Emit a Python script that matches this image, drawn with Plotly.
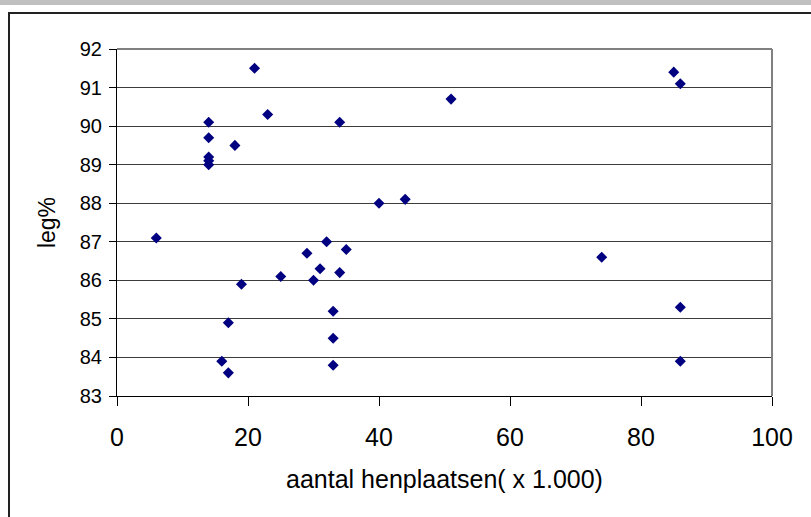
import plotly.graph_objects as go

# aantal henplaatsen (x 1.000) and leg%
henplaatsen = [21, 23, 14, 14, 18, 14, 14, 14, 34, 40,
               44, 51, 85, 86, 74, 86, 86,
               6, 19, 17, 16, 17, 25, 29, 32, 35, 31, 34, 30, 33, 33, 33]
leg_pct = [91.5, 90.3, 90.1, 89.7, 89.5, 89.2, 89.1, 89.0, 90.1, 88.0,
           88.1, 90.7, 91.4, 91.1, 86.6, 85.3, 83.9,
           87.1, 85.9, 84.9, 83.9, 83.6, 86.1, 86.7, 87.0, 86.8, 86.3, 86.2, 86.0, 85.2, 84.5, 83.8]

x_ticks = [0, 20, 40, 60, 80, 100]
y_ticks = [83, 84, 85, 86, 87, 88, 89, 90, 91, 92]

W, H = 811, 517
L, R, T, B = 117, 772, 49, 396
pw, ph = R - L, B - T


def px(x):
    return (x - L) / pw


def py(y):
    return (B - y) / ph


FONT = "Liberation Sans Narrow, Arial Narrow, Liberation Sans, Arial, sans-serif"

fig = go.Figure()
fig.add_trace(go.Scatter(
    x=henplaatsen, y=leg_pct, mode="markers",
    marker=dict(symbol="diamond", size=8.5, color="#000080", line=dict(width=0)),
    showlegend=False, cliponaxis=False,
))

fig.update_layout(
    width=W, height=H,
    margin=dict(l=L, r=W - R, t=T, b=H - B),
    paper_bgcolor="white", plot_bgcolor="white",
    font=dict(family=FONT, color="black"),
    xaxis=dict(range=[0, 100], tickvals=x_ticks, ticks="outside", ticklen=9,
               tickcolor="black", showgrid=False, zeroline=False,
               showline=True, linecolor="black", linewidth=1,
               tickfont=dict(size=25, family=FONT), ticklabelstandoff=10,
               title=dict(text="aantal henplaatsen( x 1.000)", font=dict(size=25, family=FONT), standoff=20)),
    yaxis=dict(range=[83, 92], tickvals=y_ticks, ticks="outside", ticklen=7,
               tickcolor="black", showgrid=True, gridcolor="#3c3c3c", gridwidth=1,
               zeroline=False, showline=True, linecolor="black", linewidth=1,
               tickfont=dict(size=20, family=FONT), ticklabelstandoff=3,
               title=dict(text="leg%", font=dict(size=23, family=FONT), standoff=17)),
    shapes=[
        # top gray strip
        dict(type="rect", xref="paper", yref="paper", x0=px(-5), x1=px(W + 5),
             y0=py(5), y1=py(-5), fillcolor="#c0c0c0", line=dict(width=0), layer="below"),
        # outer frame
        dict(type="rect", xref="paper", yref="paper", x0=px(9), x1=px(W + 20),
             y0=py(H + 20), y1=py(13), fillcolor="rgba(0,0,0,0)",
             line=dict(color="#222222", width=2), layer="above"),
        # plot-area border (top & right gray)
        dict(type="line", xref="paper", yref="paper", x0=0, x1=1, y0=1, y1=1,
             line=dict(color="#808080", width=2)),
        dict(type="line", xref="paper", yref="paper", x0=1, x1=1, y0=0, y1=1,
             line=dict(color="#808080", width=2)),
    ],
)

fig.write_html("out.html")
